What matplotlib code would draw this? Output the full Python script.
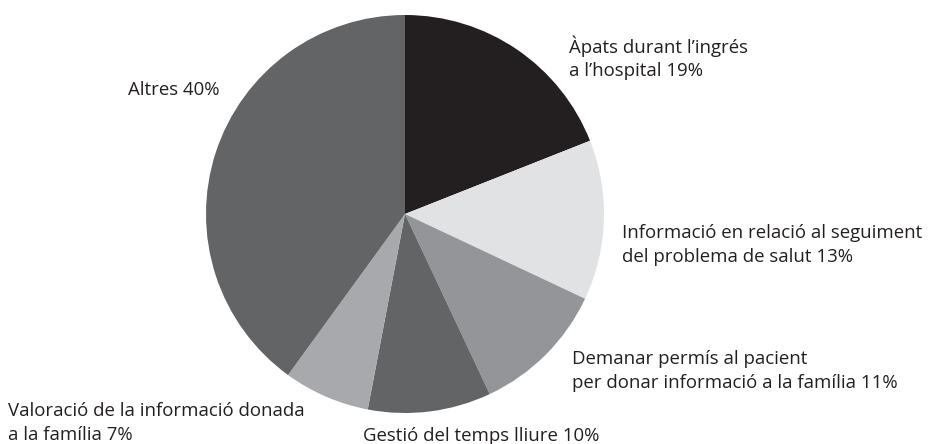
import matplotlib.pyplot as plt

# slice data, clockwise from 12 o'clock
labels = ["Àpats durant l’ingrés\na l’hospital 19%",
          "Informació en relació al seguiment\ndel problema de salut 13%",
          "Demanar permís al pacient\nper donar informació a la família 11%",
          "Gestió del temps lliure 10%",
          "Valoració de la informació donada\na la família 7%",
          "Altres 40%"]
values = [19, 13, 11, 10, 7, 40]
colors = ["#231f20", "#e1e2e3", "#939598", "#636466", "#a7a9ac", "#636466"]

# where each label sits (pixels, from top-left)
label_pos = [(569, 58), (622, 245), (572, 371), (363, 436), (8, 423), (128, 90)]

W, H = 937, 444
fig = plt.figure(figsize=(W / 100, H / 100), dpi=100)
ax = fig.add_axes([0, 0, 1, 1])

ax.pie(values, colors=colors, startangle=90, counterclock=False,
       center=(405, H - 214), radius=199, wedgeprops=dict(linewidth=0))

for lab, (x, y) in zip(labels, label_pos):
    ax.text(x, H - y, lab, ha="left", va="center", fontsize=13.4,
            family=["Open Sans", "DejaVu Sans"], color="#231f20", linespacing=1.38)

ax.set_xlim(0, W)
ax.set_ylim(0, H)
ax.set_aspect("equal")
ax.axis("off")

fig.savefig("out.png", dpi=100)
